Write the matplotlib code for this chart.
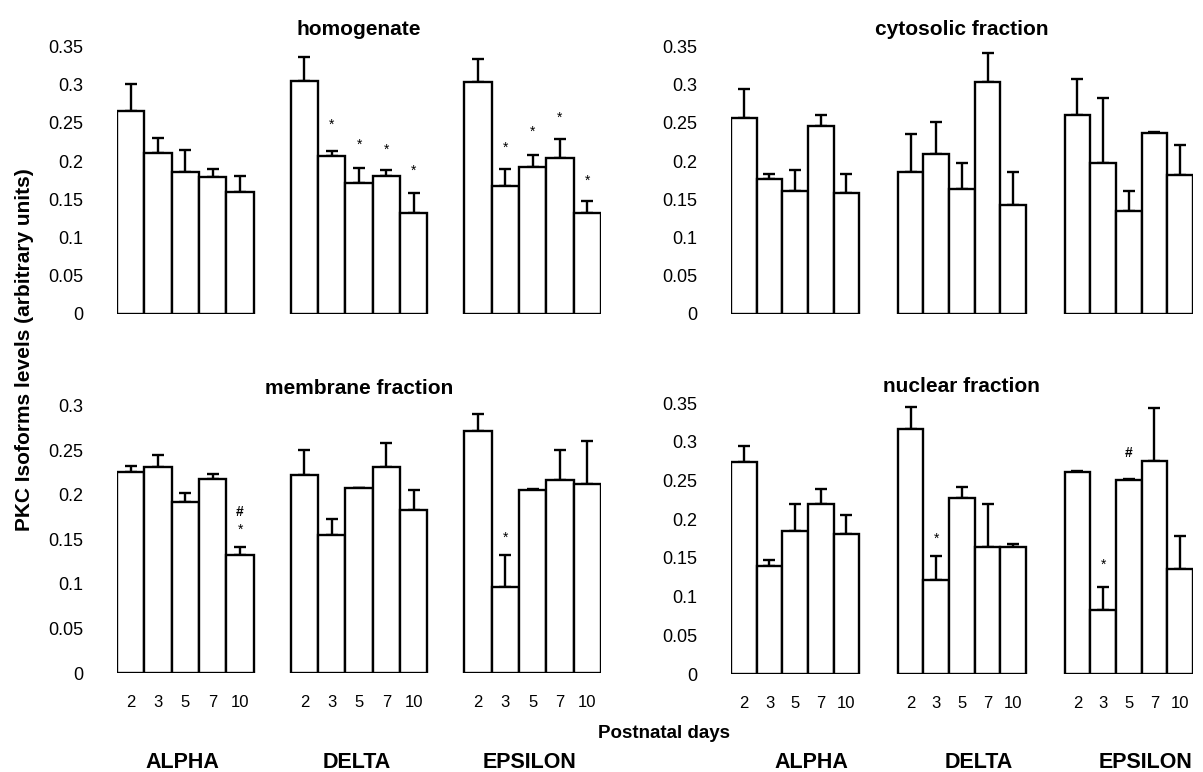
import matplotlib
matplotlib.use('Agg')
import matplotlib.pyplot as plt
import numpy as np

plt.rcParams['font.family'] = ['Liberation Sans', 'DejaVu Sans']

isoforms = ['ALPHA', 'DELTA', 'EPSILON']
days = ['2', '3', '5', '7', '10']

# mean PKC levels per isoform (rows) and postnatal day (cols), upper SEM
homog_mean = [[0.265, 0.210, 0.186, 0.179, 0.159],
              [0.305, 0.207, 0.172, 0.180, 0.132],
              [0.303, 0.167, 0.192, 0.204, 0.132]]
homog_sem = [[0.036, 0.020, 0.029, 0.011, 0.022],
             [0.031, 0.006, 0.019, 0.009, 0.026],
             [0.030, 0.023, 0.016, 0.025, 0.016]]

cyto_mean = [[0.256, 0.176, 0.161, 0.246, 0.158],
             [0.186, 0.209, 0.163, 0.304, 0.142],
             [0.260, 0.197, 0.135, 0.237, 0.182]]
cyto_sem = [[0.039, 0.007, 0.028, 0.014, 0.025],
            [0.049, 0.042, 0.035, 0.037, 0.044],
            [0.047, 0.085, 0.026, 0.001, 0.039]]

memb_mean = [[0.225, 0.231, 0.192, 0.217, 0.132],
             [0.222, 0.155, 0.207, 0.231, 0.183],
             [0.271, 0.097, 0.205, 0.216, 0.212]]
memb_sem = [[0.007, 0.013, 0.010, 0.006, 0.009],
            [0.028, 0.018, 0.001, 0.027, 0.022],
            [0.019, 0.035, 0.001, 0.034, 0.048]]

nucl_mean = [[0.274, 0.140, 0.185, 0.219, 0.181],
             [0.316, 0.122, 0.228, 0.164, 0.164],
             [0.261, 0.083, 0.250, 0.275, 0.136]]
nucl_sem = [[0.020, 0.007, 0.034, 0.020, 0.024],
            [0.029, 0.030, 0.013, 0.056, 0.004],
            [0.001, 0.030, 0.002, 0.069, 0.042]]

# significance marks: (isoform index, day index, y, symbol)
homog_marks = [(1, 1, 0.247, '*'), (1, 2, 0.221, '*'), (1, 3, 0.215, '*'), (1, 4, 0.187, '*'),
               (2, 1, 0.217, '*'), (2, 2, 0.239, '*'), (2, 3, 0.257, '*'), (2, 4, 0.174, '*')]
cyto_marks = []
memb_marks = [(0, 4, 0.161, '*'), (0, 4, 0.181, '#'), (2, 1, 0.152, '*')]
nucl_marks = [(1, 1, 0.175, '*'), (2, 1, 0.141, '*'), (2, 2, 0.286, '#')]

titles = ['homogenate', 'cytosolic fraction', 'membrane fraction', 'nuclear fraction']
ylims = [0.35, 0.35, 0.30, 0.35]

fig = plt.figure(figsize=(12.03, 7.72), dpi=100)
# [left, bottom, width, height] in figure fraction
rects = [[0.0973, 0.5933, 0.4023, 0.3465],
         [0.6076, 0.5933, 0.3840, 0.3465],
         [0.0973, 0.1282, 0.4023, 0.3466],
         [0.6076, 0.1269, 0.3840, 0.3510]]
gaps = [1.35, 1.5, 1.35, 1.5]

panels = [(homog_mean, homog_sem, homog_marks),
          (cyto_mean, cyto_sem, cyto_marks),
          (memb_mean, memb_sem, memb_marks),
          (nucl_mean, nucl_sem, nucl_marks)]

for k, (means, sems, marks) in enumerate(panels):
    ax = fig.add_axes(rects[k])
    gap = gaps[k]
    xs = []
    for g in range(len(isoforms)):
        x = g * (len(days) + gap) + np.arange(len(days))
        xs.append(x)
        ax.bar(x, means[g], width=1.0, color='white', edgecolor='black', linewidth=1.7, zorder=2)
        ax.errorbar(x, means[g], yerr=[np.zeros(len(days)), sems[g]], fmt='none',
                    ecolor='black', elinewidth=1.7, capsize=4, capthick=1.7, zorder=1, clip_on=False)
    for g, i, y, s in marks:
        if s == '*':
            ax.text(xs[g][i], y, s, ha='center', va='center', fontsize=10)
        else:
            ax.text(xs[g][i], y, s, ha='center', va='center', fontsize=10, fontweight='bold')
    ax.set_xlim(-0.5, xs[-1][-1] + 0.5)
    ax.set_ylim(0, ylims[k])
    ax.set_yticks(np.arange(0, ylims[k] + 0.001, 0.05))
    ax.set_yticklabels(['0', '0.05', '0.1', '0.15', '0.2', '0.25', '0.3', '0.35'][:len(ax.get_yticks())])
    ax.tick_params(axis='y', length=0, pad=24, labelsize=13)
    for sp in ax.spines.values():
        sp.set_visible(False)
    ax.set_title(titles[k], fontsize=15, fontweight='bold', pad=8)
    if k >= 2:
        ax.set_xticks(np.concatenate(xs))
        ax.set_xticklabels(days * len(isoforms))
        ax.tick_params(axis='x', length=0, pad=16, labelsize=12)
        off = -2 if k == 2 else 12
        for g, name in enumerate(isoforms):
            ax.annotate(name, xy=(xs[g].mean(), 1 - 762 / 772), xycoords=('data', 'figure fraction'),
                        xytext=(off, 0), textcoords='offset points',
                        ha='center', va='center', fontsize=15.5, fontweight='bold')
    else:
        ax.set_xticks([])

fig.text(664 / 1203, 1 - 733 / 772, 'Postnatal days', ha='center', va='center',
         fontsize=13.5, fontweight='bold')
fig.text(25 / 1203, 1 - 350 / 772, 'PKC Isoforms levels (arbitrary units)', rotation=90,
         ha='center', va='center', fontsize=15, fontweight='bold')

fig.savefig('out.png', dpi=100)
